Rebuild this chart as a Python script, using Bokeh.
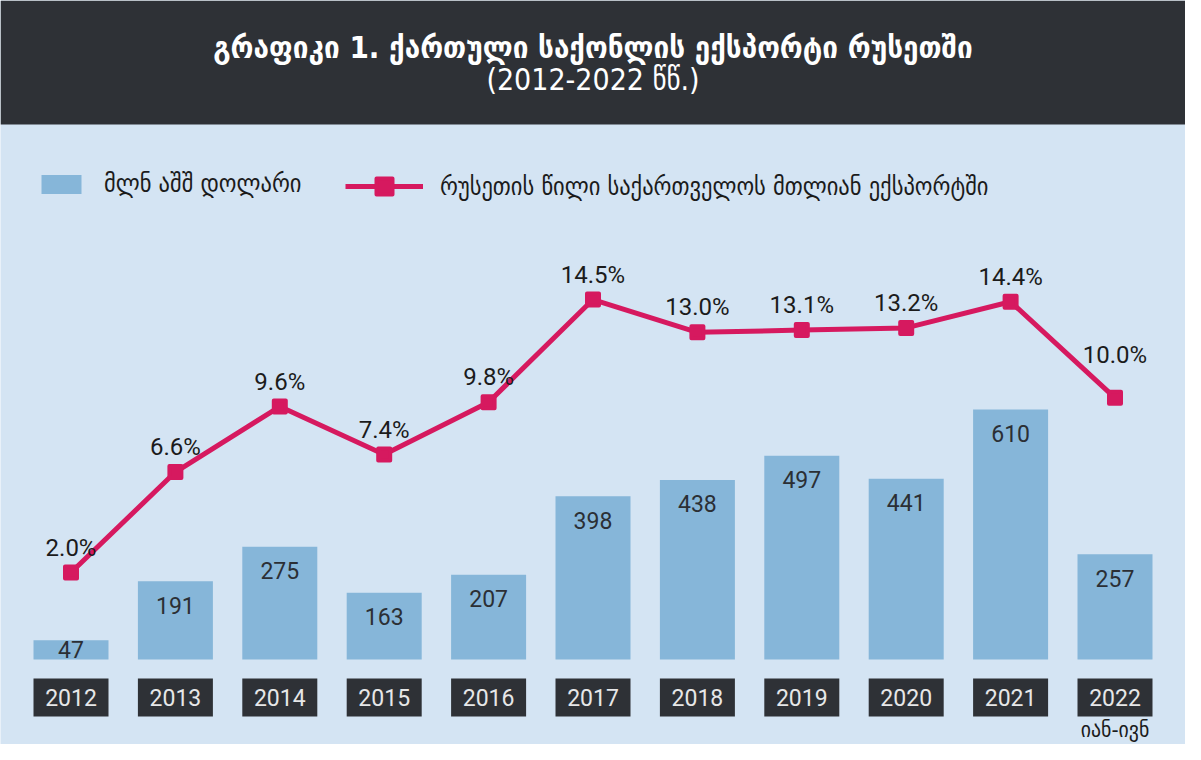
from bokeh.plotting import figure
from bokeh.models import Range1d, Label, Legend, LegendItem, ColumnDataSource
from bokeh.core.properties import value
from bokeh.embed import file_html
from bokeh.resources import INLINE

# ---- data ----
years = ["2012", "2013", "2014", "2015", "2016", "2017", "2018", "2019", "2020", "2021", "2022"]
exports_musd = [47, 191, 275, 163, 207, 398, 438, 497, 441, 610, 257]
russia_share_pct = [2.0, 6.6, 9.6, 7.4, 9.8, 14.5, 13.0, 13.1, 13.2, 14.4, 10.0]
share_labels = [f"{v:.1f}%" for v in russia_share_pct]
title_text = "გრაფიკი 1. ქართული საქონლის ექსპორტი რუსეთში"
subtitle_text = "(2012-2022 წწ.)"
legend_bar = "მლნ აშშ დოლარი"
legend_line = "რუსეთის წილი საქართველოს მთლიან ექსპორტში"
last_note = "იან-ივნ"

# ---- layout constants ----
W, H = 1185, 744
STEP = 104.4            # px between bar centres
X0 = 70.5               # px of first bar centre
PXU = 0.41              # px per million USD
BASE = 659              # px (from top) of bar base
PCT_PX = 21.84          # px per percent
PCT0 = 615.7            # px (from top) of 0 %

GEO = "DejaVu Sans Condensed"
NUM = "Roboto"
BG = "#d4e4f3"
DARK = "#2e3136"
BAR = "#86b6d9"
RED = "#d6195f"

xs = Range1d(-X0 / STEP, -X0 / STEP + W / STEP)
ys = Range1d(-(H - BASE) / PXU, BASE / PXU)

def py(cy):  # canvas px from top -> bar data units
    return (BASE - cy) / PXU

def px(cx):
    return -X0 / STEP + cx / STEP

p = figure(width=W, height=H, x_range=xs, y_range=ys, output_backend="svg",
           toolbar_location=None, min_border=0, background_fill_color=BG,
           border_fill_color=BG, outline_line_color=None)
p.axis.visible = False
p.grid.visible = False
p.extra_y_ranges = {"pct": Range1d(-(H - PCT0) / PCT_PX, PCT0 / PCT_PX)}

idx = list(range(len(years)))

# header band
p.quad(left=[xs.start], right=[xs.end], bottom=[py(124)], top=[ys.end],
       fill_color=DARK, line_color=None)
p.add_layout(Label(x=px(592.5), y=py(46), text=title_text, text_align="center",
                   text_baseline="middle", text_color="white", text_font=GEO,
                   text_font_size="31px", text_font_style="bold"))
p.add_layout(Label(x=px(592.5), y=py(79), text=subtitle_text, text_align="center",
                   text_baseline="middle", text_color="white", text_font=GEO,
                   text_font_size="30px"))

# bars
n = len(years)
src = ColumnDataSource(dict(x=idx, v=exports_musd, lab=[str(v) for v in exports_musd],
                            ly=[v if v * PXU > 46 else v / 2 for v in exports_musd],
                            off=[24 if v * PXU > 46 else 0 for v in exports_musd],
                            yr=years, s=russia_share_pct, sl=share_labels,
                            soff=[-43 if i == n - 1 else -25 for i in idx]))
bars = p.vbar(x="x", top="v", bottom=0, width=75 / STEP, source=src,
              fill_color=BAR, line_color=None)
p.text(x="x", y="ly", text="lab", y_offset="off", source=src, text_align="center",
       text_baseline="middle", text_color="#2b2f35", text_font=value(NUM),
       text_font_size="23px")

# year boxes
p.vbar(x="x", top=py(678), bottom=py(716), width=75 / STEP, source=src,
       fill_color=DARK, line_color=None)
p.text(x="x", y=py(697), text="yr", source=src, text_align="center",
       text_baseline="middle", text_color="#e6e7e8", text_font=value(NUM),
       text_font_size="23px")
p.add_layout(Label(x=idx[-1], y=py(729), text=last_note, text_align="center",
                   text_baseline="middle", text_color="#1b1b1b", text_font=GEO,
                   text_font_size="22px"))

# line
ln = p.line(x="x", y="s", source=src, y_range_name="pct", line_color=RED, line_width=5)
mk = p.scatter(x="x", y="s", source=src, y_range_name="pct", marker="square", size=12,
               fill_color=RED, line_color=RED, line_width=4, line_join="round")
p.text(x="x", y="s", text="sl", source=src, y_range_name="pct", y_offset="soff",
       text_align="center", text_baseline="middle", text_color="#1b1b1b",
       text_font=value(NUM), text_font_size="24px")

# legends
lg1 = Legend(items=[LegendItem(label=legend_bar, renderers=[bars])], location=(36, H - 198),
             orientation="horizontal", glyph_width=50, glyph_height=24, padding=0, margin=0,
             label_standoff=18, border_line_color=None, background_fill_alpha=0,
             label_text_font=GEO, label_text_font_size="25px", label_text_color="#1b1b1b")
lg2 = Legend(items=[LegendItem(label=legend_line, renderers=[ln, mk])], location=(345, H - 206),
             orientation="horizontal", glyph_width=78, glyph_height=40, padding=0, margin=0,
             label_standoff=17, border_line_color=None, background_fill_alpha=0,
             label_text_font=GEO, label_text_font_size="25px", label_text_color="#1b1b1b")
p.add_layout(lg1, "center")
p.add_layout(lg2, "center")

open("out.html", "w").write(file_html(p, INLINE))
